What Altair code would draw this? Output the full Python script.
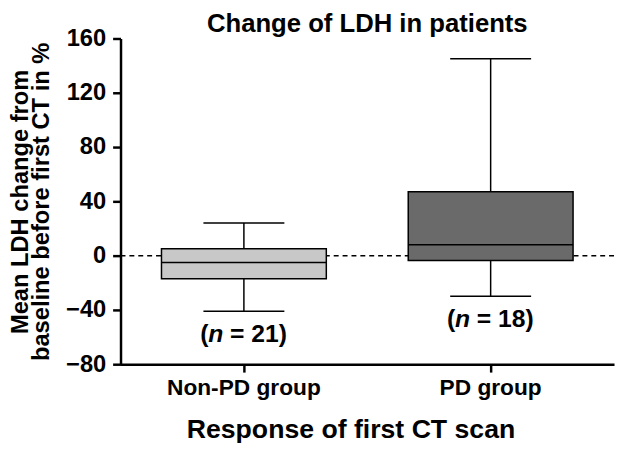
import altair as alt
import pandas as pd

groups = ["Non-PD group", "PD group"]
whisker_low = [-41, -30]
q1 = [-17, -3.5]
median = [-5, 8]
q3 = [5, 47]
whisker_high = [24, 145]
n_values = [21, 18]
fills = ["#c8c8c8", "#6a6a6a"]

y_ticks = [-80, -40, 0, 40, 80, 120, 160]

df = pd.DataFrame({
    "group": groups,
    "low": whisker_low,
    "q1": q1,
    "median": median,
    "q3": q3,
    "high": whisker_high,
    "rest": [f"= {n})" for n in n_values],
    "open": ["(" for _ in n_values],
    "nn": ["n" for _ in n_values],
})

FONT = "Liberation Sans"

x = alt.X("group:N", sort=groups,
          scale=alt.Scale(domain=groups, paddingInner=0, paddingOuter=0),
          axis=alt.Axis(title="Response of first CT scan", labelAngle=0,
                        labelFont=FONT, labelFontSize=23, labelFontWeight="bold",
                        labelColor="black", labelPadding=5,
                        titleFont=FONT, titleFontSize=27, titleFontWeight="bold",
                        titleColor="black", titlePadding=17, titleX=233,
                        domainColor="black", domainWidth=2.5,
                        tickColor="black", tickWidth=2.5, tickSize=8, grid=False))

y_scale = alt.Scale(domain=[-80, 160], nice=False, zero=False)
y_axis = alt.Axis(title=["Mean LDH change from", "baseline before first CT in %"],
                  values=y_ticks, labelFont=FONT, labelFontSize=24,
                  labelFontWeight="bold", labelColor="black", labelPadding=7,
                  titleFont=FONT, titleFontSize=24, titleFontWeight="bold",
                  titleColor="black", titleLineHeight=22, titlePadding=12,
                  domainColor="black", domainWidth=2.5,
                  tickColor="black", tickWidth=2.5, tickSize=8, grid=False)

base = alt.Chart(df)

zero_line = alt.Chart(pd.DataFrame({"y": [0]})).mark_rule(
    color="black", strokeWidth=1.5, strokeDash=[5, 4]
).encode(y=alt.Y("y:Q", scale=y_scale, axis=y_axis))

whisker = base.mark_rule(color="black", strokeWidth=1.5).encode(
    x=x, y=alt.Y("low:Q", scale=y_scale, axis=y_axis), y2="high:Q")

caps_low = base.mark_tick(color="black", thickness=1.5, size=82, opacity=1).encode(
    x=x, y=alt.Y("low:Q", scale=y_scale, axis=y_axis))
caps_high = base.mark_tick(color="black", thickness=1.5, size=82, opacity=1).encode(
    x=x, y=alt.Y("high:Q", scale=y_scale, axis=y_axis))

box = base.mark_bar(width=167, stroke="black", strokeWidth=1.5, opacity=1).encode(
    x=x, y=alt.Y("q1:Q", scale=y_scale, axis=y_axis), y2="q3:Q",
    fill=alt.Fill("group:N", scale=alt.Scale(domain=groups, range=fills), legend=None))

med = base.mark_tick(color="black", thickness=1.5, size=167, opacity=1).encode(
    x=x, y=alt.Y("median:Q", scale=y_scale, axis=y_axis))

txt_common = dict(font=FONT, fontSize=25, fontWeight="bold", color="black",
                  baseline="middle", dy=23)
t_open = base.mark_text(align="right", dx=-36, **txt_common).encode(
    x=x, y=alt.Y("low:Q", scale=y_scale, axis=y_axis), text="open:N")
t_n = base.mark_text(align="left", dx=-36, fontStyle="italic", **txt_common).encode(
    x=x, y=alt.Y("low:Q", scale=y_scale, axis=y_axis), text="nn:N")
t_rest = base.mark_text(align="left", dx=-14, **txt_common).encode(
    x=x, y=alt.Y("low:Q", scale=y_scale, axis=y_axis), text="rest:N")

chart = alt.layer(zero_line, whisker, caps_low, caps_high, box, med,
                  t_open, t_n, t_rest).properties(
    width=500, height=330,
    title=alt.TitleParams("Change of LDH in patients", font=FONT, fontSize=26,
                          fontWeight="bold", color="black", anchor="middle",
                          frame="group", baseline="alphabetic", offset=5, dy=36),
    padding={"left": 114, "top": 28, "right": 2, "bottom": 82},
    autosize="none",
).configure_view(stroke=None)

chart.save("out.html", embed_options={"renderer": "svg", "actions": False})
